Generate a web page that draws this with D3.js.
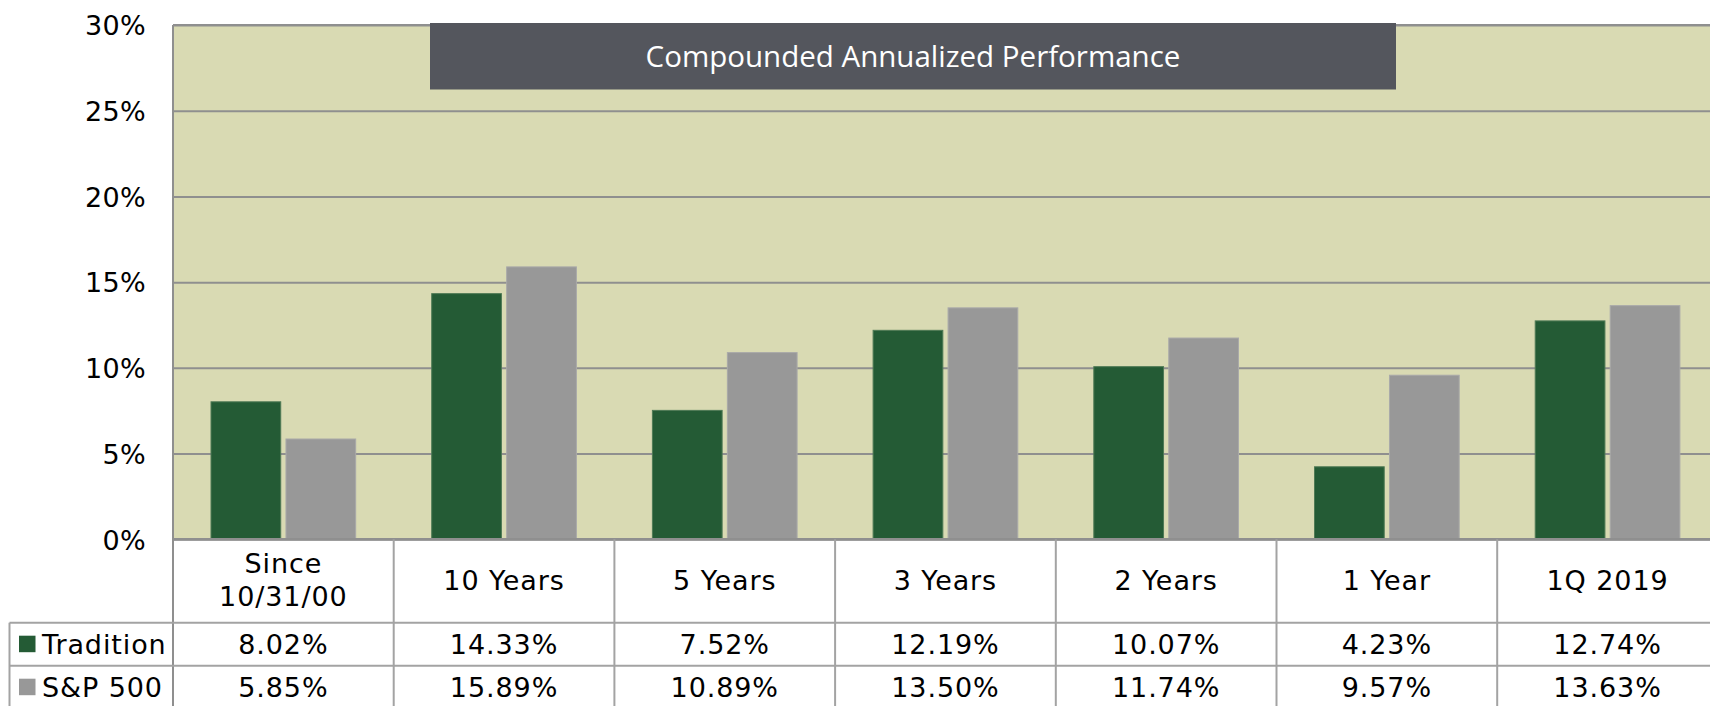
<!DOCTYPE html>
<html>
<head>
<meta charset="utf-8">
<script src="https://cdn.jsdelivr.net/npm/d3@7"></script>
<style>
  body { margin: 0; background: #fff; overflow: hidden; }
  svg { display: block; }
  .tick text { font-family: "DejaVu Sans", Verdana, sans-serif; font-size: 27px; fill: #000; letter-spacing: 0.3px; }
  .cell text { font-family: "DejaVu Sans", Verdana, sans-serif; font-size: 27px; fill: #000; letter-spacing: 0.9px; }
</style>
</head>
<body>
<script>
"use strict";

// data
const categories = [["Since", "10/31/00"], ["10 Years"], ["5 Years"], ["3 Years"], ["2 Years"], ["1 Year"], ["1Q 2019"]];
const seriesNames = ["Tradition", "S&P 500"];
const tradition = [8.02, 14.33, 7.52, 12.19, 10.07, 4.23, 12.74];
const sp500 = [5.85, 15.89, 10.89, 13.50, 11.74, 9.57, 13.63];
const yTicks = [0, 5, 10, 15, 20, 25, 30];
const title = "Compounded Annualized Performance";

const colors = { "Tradition": "#245b35", "S&P 500": "#989898" };
const values = { "Tradition": tradition, "S&P 500": sp500 };

const w = 1710, h = 706;
const plotLeft = 173, plotTop = 25, baseY = 539.3;
const bandW = 220.7;
const headH = 83.4, rowH = 43;
const legendLeft = 9.5;

const svg = d3.select("body").append("svg").attr("width", w).attr("height", h);

const catKeys = categories.map(c => c.join(" "));
const x = d3.scaleBand()
  .domain(catKeys)
  .range([plotLeft, plotLeft + bandW * categories.length])
  .paddingInner(0).paddingOuter(0);
const x1 = d3.scaleBand()
  .domain(seriesNames)
  .range([0, x.bandwidth()])
  .paddingInner(0.07)
  .paddingOuter(0.507);
const y = d3.scaleLinear().domain([0, 30]).range([baseY, plotTop]);

const plotRight = x.range()[1];

// plot background
svg.append("rect")
  .attr("x", plotLeft).attr("y", plotTop)
  .attr("width", plotRight - plotLeft).attr("height", baseY - plotTop)
  .attr("fill", "#d9dab3");

// gridlines
const grid = svg.append("g")
  .attr("transform", `translate(${plotLeft},0)`)
  .call(d3.axisLeft(y).tickValues(yTicks).tickSize(-(plotRight - plotLeft)).tickFormat(""));
grid.select(".domain").remove();
grid.selectAll(".tick line").attr("stroke", "#8f8f8f").attr("stroke-width", 2);

// y labels
const yAxis = svg.append("g")
  .attr("transform", `translate(${plotLeft},0)`)
  .call(d3.axisLeft(y).tickValues(yTicks).tickSize(0).tickPadding(27).tickFormat(d => d + "%"));
yAxis.select(".domain").remove();
yAxis.selectAll(".tick text").attr("dy", "0.36em");

// bars
const groups = svg.append("g").selectAll("g")
  .data(catKeys)
  .join("g")
  .attr("transform", d => `translate(${x(d)},0)`);

groups.selectAll("rect")
  .data((d, i) => seriesNames.map(s => ({ s, v: values[s][i] })))
  .join("rect")
  .attr("x", d => x1(d.s))
  .attr("y", d => y(d.v))
  .attr("width", x1.bandwidth())
  .attr("height", d => y(0) - y(d.v))
  .attr("fill", d => colors[d.s])
  .attr("stroke", d => d.s === "Tradition" ? "#4f7a55" : "#a9a9a9")
  .attr("stroke-width", 1);

// plot frame: top and left
svg.append("line")
  .attr("x1", plotLeft).attr("x2", plotRight).attr("y1", plotTop).attr("y2", plotTop)
  .attr("stroke", "#8f8f8f").attr("stroke-width", 2);
svg.append("line")
  .attr("x1", plotLeft).attr("x2", plotLeft).attr("y1", plotTop).attr("y2", h + 5)
  .attr("stroke", "#8f8f8f").attr("stroke-width", 2);

// data table
const tableColor = "#a3a3a3";
const table = svg.append("g").attr("class", "cell");

// horizontal lines
const rowYs = [baseY, baseY + headH, baseY + headH + rowH, baseY + headH + 2 * rowH];
table.append("line")
  .attr("x1", plotLeft).attr("x2", plotRight).attr("y1", rowYs[0]).attr("y2", rowYs[0])
  .attr("stroke", "#8f8f8f").attr("stroke-width", 2.5);
rowYs.slice(1).forEach(ry => {
  table.append("line")
    .attr("x1", legendLeft).attr("x2", plotRight).attr("y1", ry).attr("y2", ry)
    .attr("stroke", tableColor).attr("stroke-width", 2);
});

// vertical lines
table.append("line")
  .attr("x1", legendLeft).attr("x2", legendLeft).attr("y1", rowYs[1]).attr("y2", h + 5)
  .attr("stroke", tableColor).attr("stroke-width", 2);
catKeys.slice(1).forEach(k => {
  table.append("line")
    .attr("x1", x(k)).attr("x2", x(k)).attr("y1", baseY).attr("y2", h + 5)
    .attr("stroke", tableColor).attr("stroke-width", 2);
});

// category headers
categories.forEach((lines, i) => {
  const cx = x(catKeys[i]) + x.bandwidth() / 2;
  const cy = baseY + headH / 2 - 1;
  const lh = 33;
  lines.forEach((t, j) => {
    table.append("text")
      .attr("x", cx)
      .attr("y", cy + (j - (lines.length - 1) / 2) * lh)
      .attr("dy", "0.36em")
      .attr("text-anchor", "middle")
      .text(t);
  });
});

// series rows
seriesNames.forEach((s, r) => {
  const cy = rowYs[1 + r] + rowH / 2;
  table.append("rect")
    .attr("x", 19).attr("y", cy - 8.5)
    .attr("width", 16.5).attr("height", 16.5)
    .attr("fill", colors[s]);
  table.append("text")
    .attr("x", 42)
    .attr("y", cy)
    .attr("dy", "0.36em")
    .text(s);
  values[s].forEach((v, i) => {
    table.append("text")
      .attr("x", x(catKeys[i]) + x.bandwidth() / 2)
      .attr("y", cy)
      .attr("dy", "0.36em")
      .attr("text-anchor", "middle")
      .text(v.toFixed(2) + "%");
  });
});

// title box
const tb = svg.append("g");
tb.append("rect")
  .attr("x", 430).attr("y", 23)
  .attr("width", 966).attr("height", 66.5)
  .attr("fill", "#54565d");
tb.append("text")
  .attr("x", 430 + 966 / 2).attr("y", 23 + 66.5 / 2)
  .attr("dy", "0.36em")
  .attr("text-anchor", "middle")
  .attr("fill", "#fff")
  .style("font-family", "'Open Sans', sans-serif")
  .style("font-size", "29.5px")
  .text(title);
</script>
</body>
</html>
